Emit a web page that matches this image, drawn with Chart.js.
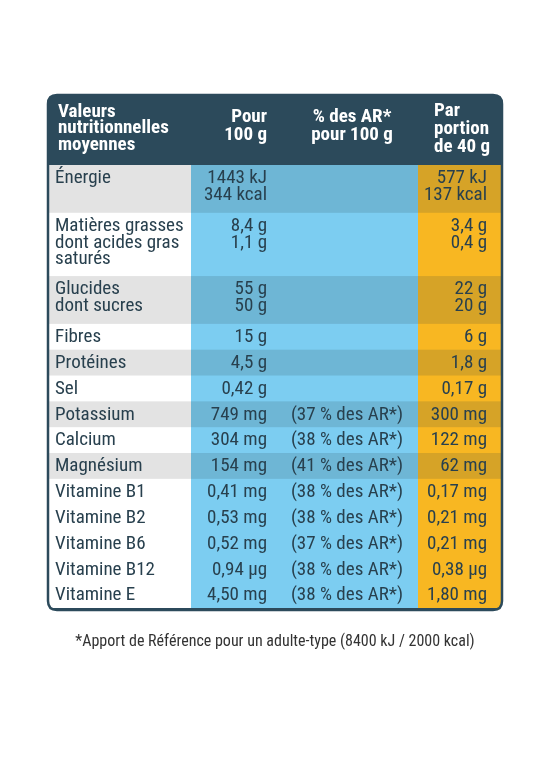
<!DOCTYPE html>
<html><head><meta charset="utf-8">
<script src="https://cdn.jsdelivr.net/npm/chart.js@4"></script>
<style>html,body{margin:0;background:#fff}#w{width:550px;height:765px}</style>
</head><body><div id="w"><canvas id="c"></canvas></div>
<script>
const headers = [["Valeurs","nutritionnelles","moyennes"],["Pour","100 g"],["% des AR*","pour 100 g"],["Par","portion","de 40 g"]];
const labels = [["Énergie"],["Matières grasses","dont acides gras","saturés"],["Glucides","dont sucres"],["Fibres"],["Protéines"],["Sel"],["Potassium"],["Calcium"],["Magnésium"],["Vitamine B1"],["Vitamine B2"],["Vitamine B6"],["Vitamine B12"],["Vitamine E"]];
const per100 = [["1443 kJ","344 kcal"],["8,4 g","1,1 g"],["55 g","50 g"],["15 g"],["4,5 g"],["0,42 g"],["749 mg"],["304 mg"],["154 mg"],["0,41 mg"],["0,53 mg"],["0,52 mg"],["0,94 µg"],["4,50 mg"]];
const pctAR = [[],[],[],[],[],[],["(37 % des AR*)"],["(38 % des AR*)"],["(41 % des AR*)"],["(38 % des AR*)"],["(38 % des AR*)"],["(37 % des AR*)"],["(38 % des AR*)"],["(38 % des AR*)"]];
const perPortion = [["577 kJ","137 kcal"],["3,4 g","0,4 g"],["22 g","20 g"],["6 g"],["1,8 g"],["0,17 g"],["300 mg"],["122 mg"],["62 mg"],["0,17 mg"],["0,21 mg"],["0,21 mg"],["0,38 µg"],["1,80 mg"]];
const shaded = [true,false,true,false,true,false,true,false,true,false,false,false,false,false];
const footnote = "*Apport de Référence pour un adulte-type (8400 kJ / 2000 kcal)";

const FONT = "'Liberation Sans Narrow','Roboto Condensed','Roboto',sans-serif";
const DARK = "#2c4a5b", TXT = "#28404e";
const spans = labels.map((l,i)=>{const n=Math.max(l.length,per100[i].length);return n===1?1:(n===2?1.85:2.45);});
const starts=[];let acc=0;spans.forEach(s=>{starts.push(acc);acc+=s;});
const total=acc;

function rr(ctx,x,y,w,h,r){ctx.beginPath();ctx.moveTo(x+r,y);ctx.lineTo(x+w-r,y);ctx.quadraticCurveTo(x+w,y,x+w,y+r);ctx.lineTo(x+w,y+h-r);ctx.quadraticCurveTo(x+w,y+h,x+w-r,y+h);ctx.lineTo(x+r,y+h);ctx.quadraticCurveTo(x,y+h,x,y+h-r);ctx.lineTo(x,y+r);ctx.quadraticCurveTo(x,y,x+r,y);ctx.closePath();}

const tablePlugin={id:'table',beforeDraw(chart){
  const ctx=chart.ctx, ys=chart.scales.y, xs=chart.scales.x, a=chart.chartArea;
  const X=v=>xs.getPixelForValue(v);
  const c0=X(0),c1=X(143),c2=X(370),c3=X(454);
  const top=95, bot=ys.getPixelForValue(total);
  ctx.save();
  rr(ctx,c0,top,c3-c0,bot-top+2,9);ctx.fillStyle=DARK;ctx.fill();ctx.clip();
  ctx.fillStyle="#fff";ctx.fillRect(c0,a.top,c1-c0,bot-a.top);
  ctx.fillStyle="#7ccdf1";ctx.fillRect(c1,a.top,c2-c1,bot-a.top);
  ctx.fillStyle="#f8b722";ctx.fillRect(c2,a.top,c3-c2,bot-a.top);
  labels.forEach((l,i)=>{
    const y0=ys.getPixelForValue(starts[i]),y1=ys.getPixelForValue(starts[i]+spans[i]);
    if(shaded[i]){ctx.fillStyle="#e3e3e3";ctx.fillRect(c0,y0,c1-c0,y1-y0);ctx.fillStyle="rgba(40,60,70,0.16)";ctx.fillRect(c1,y0,c3-c1,y1-y0);}
    ctx.fillStyle=TXT;ctx.font="19px "+FONT;ctx.textBaseline="middle";
    const ly=k=>y0+13.5+k*16.5;
    ctx.textAlign="left";l.forEach((t,k)=>ctx.fillText(t,X(7),ly(k)));
    ctx.textAlign="right";per100[i].forEach((t,k)=>ctx.fillText(t,X(219),ly(k)));
    pctAR[i].forEach((t,k)=>ctx.fillText(t,X(355),ly(k)));
    perPortion[i].forEach((t,k)=>ctx.fillText(t,X(439),ly(k)));
  });
  ctx.restore();
  ctx.save();rr(ctx,c0,top,c3-c0,bot-top+2,9);ctx.lineWidth=2.5;ctx.strokeStyle=DARK;ctx.stroke();ctx.restore();
  ctx.save();ctx.fillStyle="#fff";ctx.font="bold 19px "+FONT;ctx.textBaseline="middle";
  ctx.textAlign="left";headers[0].forEach((t,k)=>ctx.fillText(t,X(10),112+k*16.5));
  ctx.textAlign="right";headers[1].forEach((t,k)=>ctx.fillText(t,X(219),117+k*18));
  ctx.textAlign="center";headers[2].forEach((t,k)=>ctx.fillText(t,X(304),117+k*18));
  ctx.textAlign="left";headers[3].forEach((t,k)=>ctx.fillText(t,X(386),111+k*18));
  ctx.fillStyle="#333";ctx.font="16px "+FONT;ctx.textAlign="center";ctx.fillText(footnote,275,642);
  ctx.restore();
}};

new Chart(document.getElementById('c'),{
  type:'scatter',
  data:{datasets:[{data:[]}]},
  options:{responsive:true,maintainAspectRatio:false,animation:false,
    layout:{padding:{top:165,bottom:157,left:40,right:40}},
    plugins:{legend:{display:false},tooltip:{enabled:false}},
    scales:{x:{type:'linear',min:-8,max:462,display:false},
            y:{type:'linear',min:0,max:total,reverse:true,display:false}}},
  plugins:[tablePlugin]
});
</script></body></html>
